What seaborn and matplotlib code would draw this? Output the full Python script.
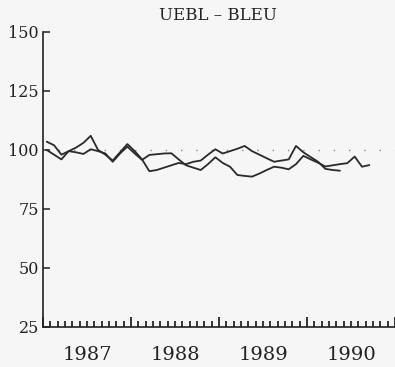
import numpy as np
import pandas as pd
import matplotlib
matplotlib.use("Agg")
import matplotlib.pyplot as plt
import matplotlib.transforms as mtransforms
import seaborn as sns

# ---- data ----
title = "UEBL – BLEU"
series_a = [103.5, 102, 98, 99.5, 101, 103, 106, 100, 98, 95.5, 99, 102.5,
            99.5, 96, 91, 91.5, 92.5, 93.5, 94.5, 94, 95, 95.5, 98, 100.3,
            98.5, 99.5, 100.5, 101.7, 99.5, 98, 96.5, 95, 95.5, 96, 101.7, 99,
            97, 95, 92, 91.5, 91.2]
series_b = [100, 98, 96, 99.5, 99, 98.3, 100.3, 99.5, 98.5, 95, 98.5, 101.4,
            98.5, 95.8, 97.9, 98.2, 98.5, 98.6, 96, 93.5, 92.5, 91.5, 94, 96.9,
            94.5, 92.9, 89.4, 89, 88.7, 90, 91.5, 92.9, 92.5, 91.8, 94, 97.5,
            96, 94.6, 93, 93.5, 94, 94.4, 97.2, 92.9, 93.6]
start_month = "1987-01"
reference_level = 100
year_labels = ["1987", "1988", "1989", "1990"]
y_ticks = [25, 50, 75, 100, 125, 150]

def to_frame(vals, name):
    d = pd.date_range(start_month, periods=len(vals), freq="MS")
    t = d.year + (d.month - 0.5) / 12.0
    return pd.DataFrame({"t": t, "v": vals, "s": name})

df = pd.concat([to_frame(series_a, "a"), to_frame(series_b, "b")], ignore_index=True)

sns.set_style("ticks")
plt.rcParams["font.family"] = ["DejaVu Serif"]

bg = "#f6f6f6"
fig = plt.figure(figsize=(3.95, 3.67), dpi=100, facecolor=bg)
ax = fig.add_axes([0.109, 0.109, 0.891, 0.804])
ax.set_facecolor(bg)

ax.axhline(reference_level, color="#8a8a8a", lw=1.0, ls=(0, (1, 10)), zorder=1)
sns.lineplot(data=df, x="t", y="v", units="s", estimator=None,
             color="#2a2a2a", lw=1.3, ax=ax, legend=False, zorder=3)

years = [int(y) for y in year_labels]
ax.set_xlim(years[0], years[-1] + 1)
ax.set_ylim(y_ticks[0], y_ticks[-1])
ax.set_yticks(y_ticks)
ax.set_yticklabels([str(v) for v in y_ticks], fontsize=11.5)

ax.set_xticks(years + [years[-1] + 1])
ax.set_xticklabels([])
ax.set_xticks(np.arange(years[0], years[-1] + 1, 1 / 12), minor=True)
ax.tick_params(axis="x", which="major", direction="in", length=7, width=1.1, color="black")
ax.tick_params(axis="x", which="minor", direction="in", length=4.5, width=1.1, color="black")
ax.tick_params(axis="y", which="major", direction="in", length=5, width=1.1, pad=3,
               color="#222", labelcolor="#222")

trans = mtransforms.blended_transform_factory(ax.transData, ax.transAxes)
for lab, yr in zip(year_labels, years):
    ax.text(yr + 0.5, -0.063, lab, transform=trans, ha="center", va="top",
            fontsize=14, color="#222")

ax.set_xlabel("")
ax.set_ylabel("")
for s in ["top", "right"]:
    ax.spines[s].set_visible(False)
ax.spines["left"].set_color("#222")
ax.spines["bottom"].set_color("#222")
ax.spines["left"].set_linewidth(1.2)
ax.spines["bottom"].set_linewidth(1.2)

fig.text(0.553, 0.958, title, ha="center", va="center", fontsize=12, color="#222")

fig.savefig("out.png", dpi=100, facecolor=bg)
